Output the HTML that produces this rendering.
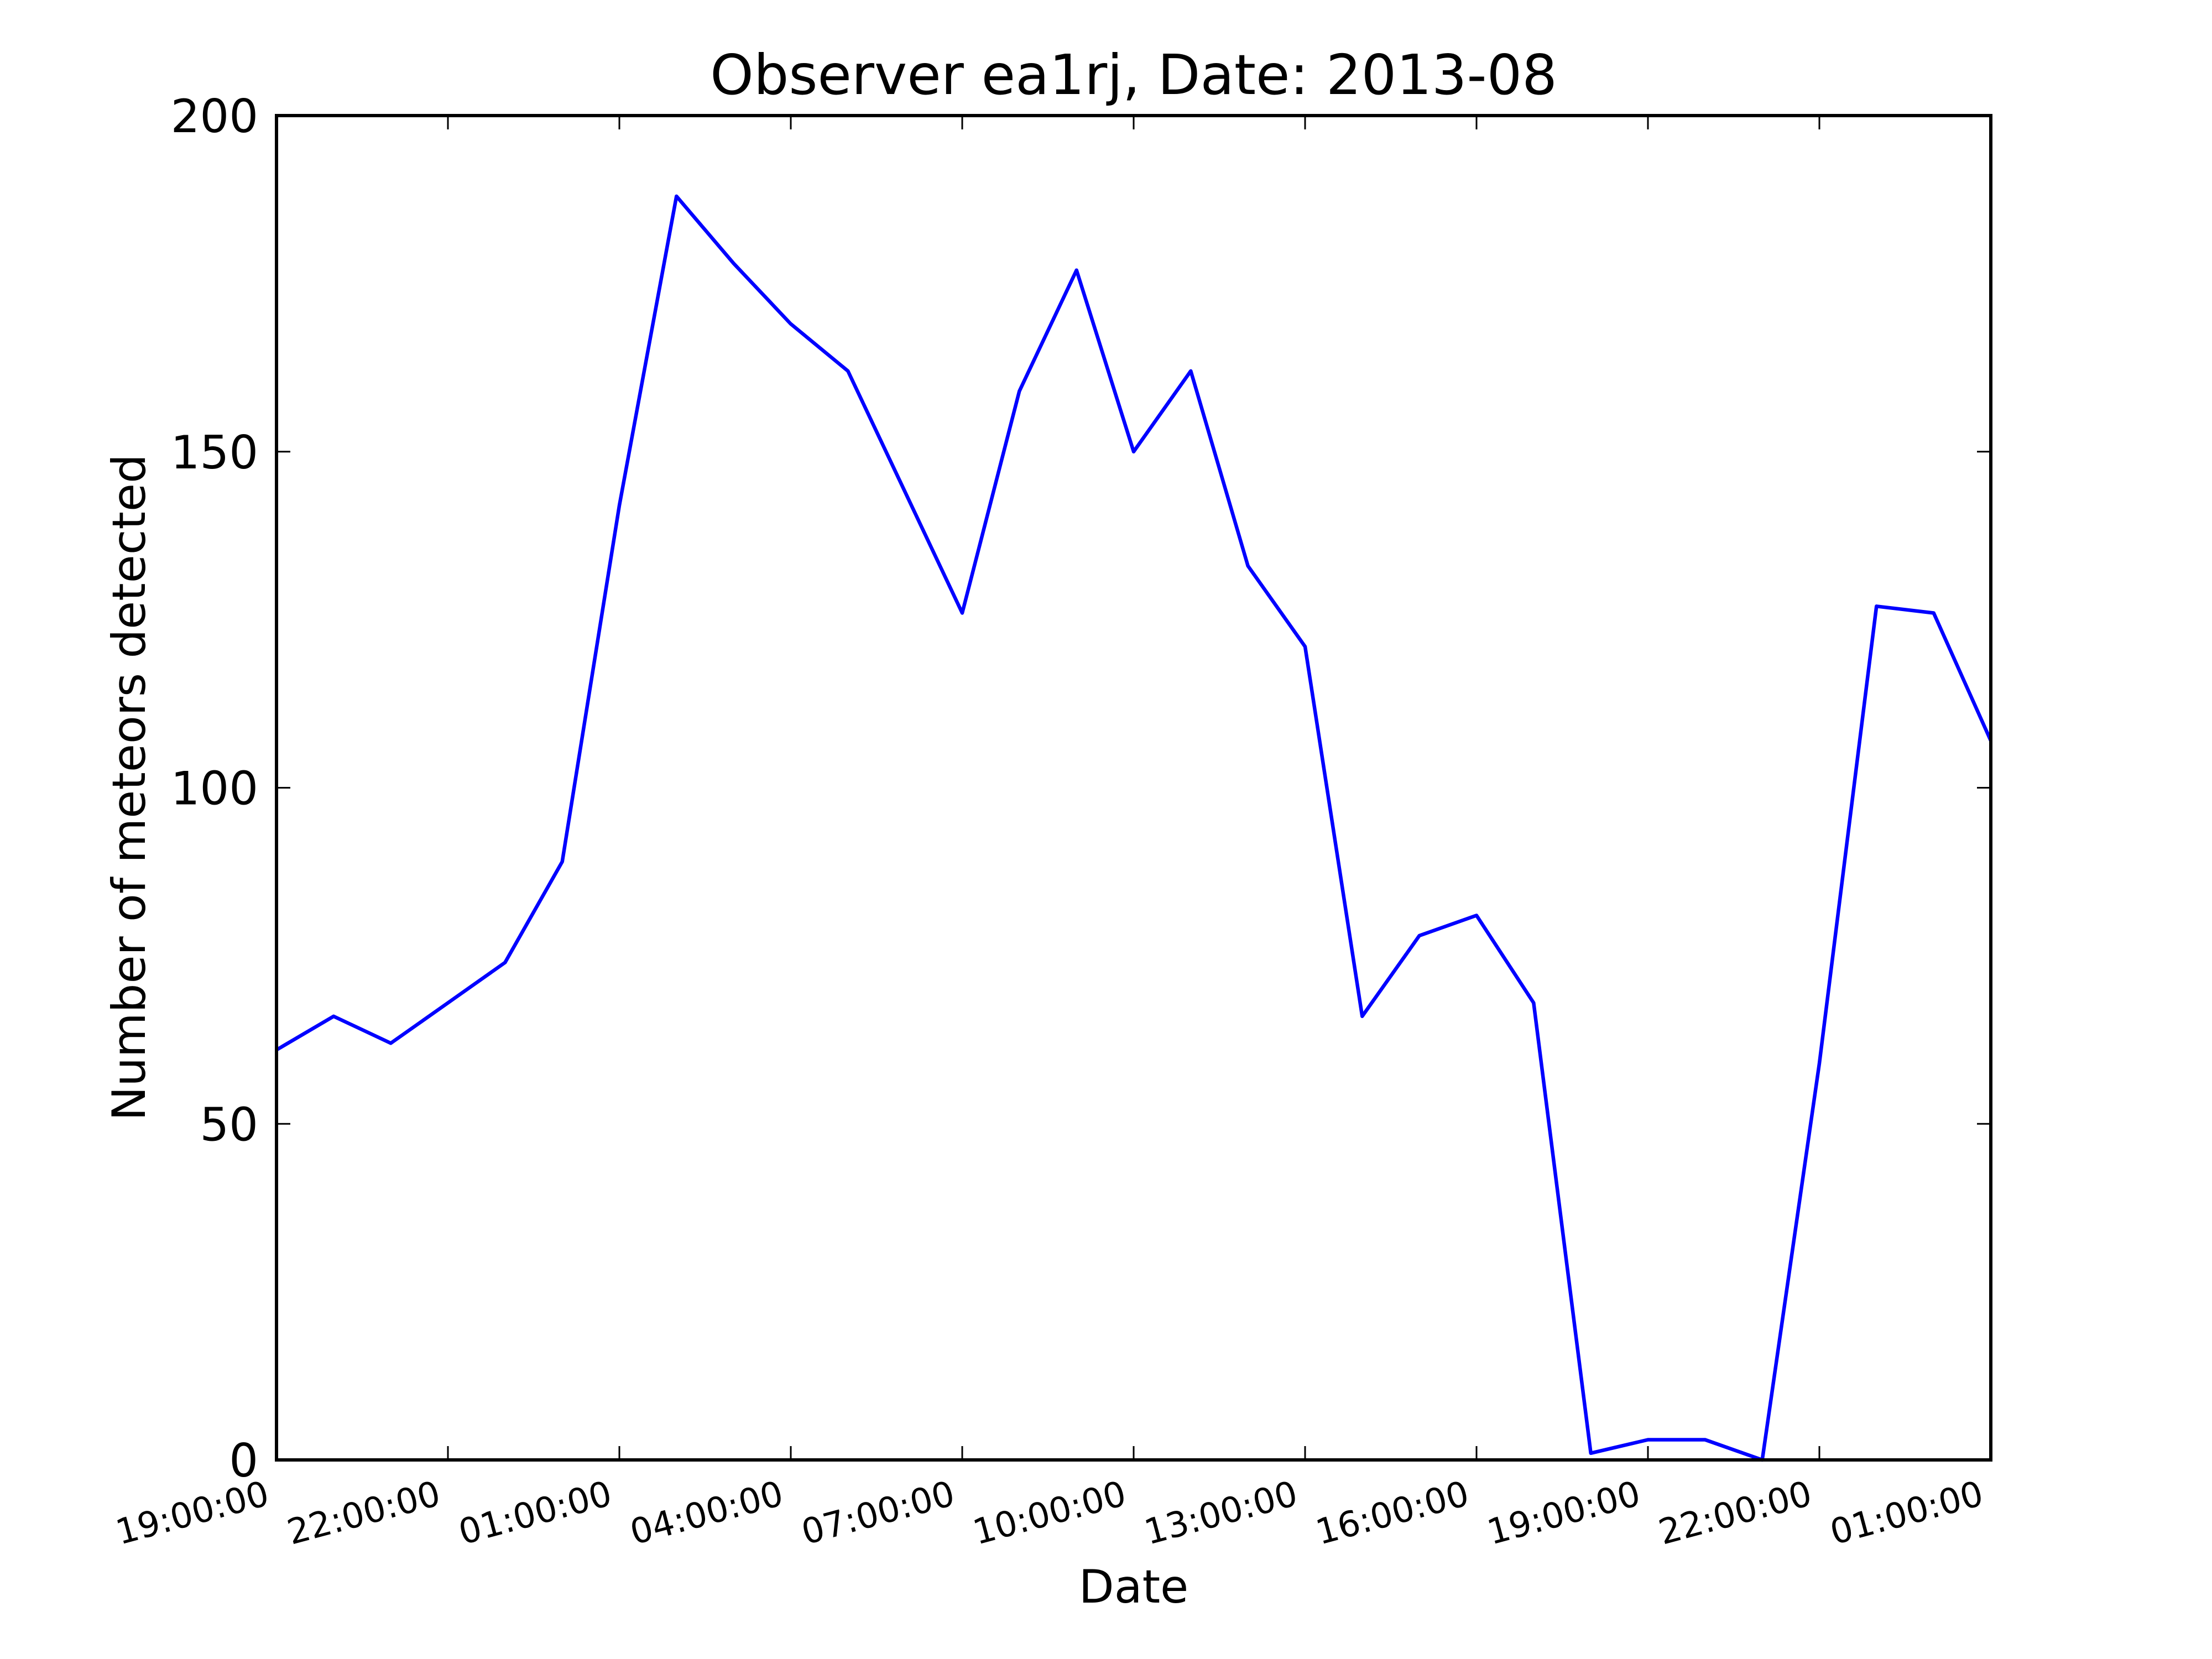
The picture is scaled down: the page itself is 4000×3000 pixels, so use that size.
<!DOCTYPE html>
<html><head><meta charset="utf-8"><style>
html,body{margin:0;padding:0;background:#fff;}
svg{display:block;font-family:"DejaVu Sans","Liberation Sans",sans-serif;}
</style></head><body>
<svg id="chart" width="4000" height="3000" viewBox="0 0 4000 3000" xmlns="http://www.w3.org/2000/svg">
<rect width="4000" height="3000" fill="#fff"/>
<text x="2050" y="170" font-size="100" text-anchor="middle">Observer ea1rj, Date: 2013-08</text>
<text x="2050" y="2898" font-size="83" text-anchor="middle">Date</text>
<text transform="translate(262,1424) rotate(-90)" font-size="83" text-anchor="middle">Number of meteors detected</text>
<g id="ticks"></g>
<g id="plot"></g>
<rect x="500" y="209" width="3100" height="2431" fill="none" stroke="#000" stroke-width="6"/>
</svg>
<script>
const hours = [19,20,21,22,23,0,1,2,3,4,5,6,7,8,9,10,11,12,13,14,15,16,17,18,19,20,21,22,23,0,1];
const counts = [61,66,62,68,74,89,142,188,178,169,162,144,126,159,177,150,162,133,121,66,78,81,68,1,3,3,0,59,127,126,107];
const xTickLabels = ["19:00:00","22:00:00","01:00:00","04:00:00","07:00:00","10:00:00","13:00:00","16:00:00","19:00:00","22:00:00","01:00:00"];
const yTickValues = [0,50,100,150,200];

const L=500,R=3600,T=209,B=2640;
const xMax = 30, yMax = 200;
function xs(i){return L+(R-L)*i/xMax;}
function ys(v){return B-(B-T)*v/yMax;}
const NS="http://www.w3.org/2000/svg";
const tg=document.getElementById('ticks'), pg=document.getElementById('plot');
function mk(tag,attrs,parent){const e=document.createElementNS(NS,tag);for(const k in attrs)e.setAttribute(k,attrs[k]);parent.appendChild(e);return e;}

xTickLabels.forEach((lab,k)=>{
  const x=xs(k*3);
  const t1=mk('line',{x1:x,x2:x,y1:B,y2:B-25,stroke:'#000','stroke-width':3},tg);
  
  
  const t2=mk('line',{x1:x,x2:x,y1:T,y2:T+25,stroke:'#000','stroke-width':3},tg);
  
  
  const tx=mk('text',{transform:`translate(${x-10},2720) rotate(-15)`,'font-size':63,'text-anchor':'end'},tg);
  tx.textContent=lab;
  
  
});
yTickValues.forEach(v=>{
  const y=ys(v);
  const t1=mk('line',{x1:L,x2:L+25,y1:y,y2:y,stroke:'#000','stroke-width':3},tg);
  
  
  const t2=mk('line',{x1:R,x2:R-25,y1:y,y2:y,stroke:'#000','stroke-width':3},tg);
  
  
  const tx=mk('text',{x:467,y:y+30,'font-size':83,'text-anchor':'end'},tg);
  tx.textContent=String(v);
  
  
});
const pts=counts.map((c,i)=>xs(i).toFixed(1)+','+ys(c).toFixed(1)).join(' ');
const line=mk('polyline',{points:pts,fill:'none',stroke:'#0000ff','stroke-width':6.5,'stroke-linejoin':'round'},pg);


</script>
</body></html>
